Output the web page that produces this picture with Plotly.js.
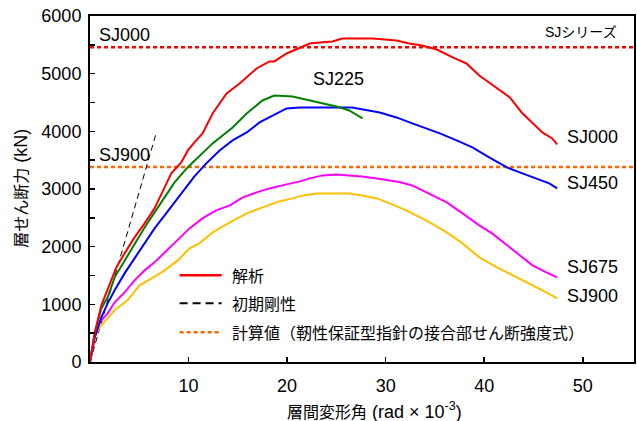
<!DOCTYPE html>
<html>
<head>
<meta charset="utf-8">
<script src="https://cdn.plot.ly/plotly-3.0.1.min.js"></script>
<style>html,body{margin:0;padding:0;background:#fff;}#chart{width:637px;height:421px;}</style>
</head>
<body>
<div id="chart"></div>
<script>
// ---- data ----
const sj000_x = [0, 0.47, 1.15, 1.65, 2.16, 2.67, 3.51, 4.52, 5.54, 6.55, 7.57, 8.25, 9.26, 9.93, 10.6, 11.42, 12.44, 13.86, 15.18, 16.9, 18.2, 18.7, 19.95, 21.26, 22.3, 23.3, 24.6, 25.6, 28.7, 31.1, 32.4, 33.7, 35.2, 36.8, 38.2, 39.5, 41.2, 42.6, 43.8, 44.9, 45.9, 46.9, 47.4];
const sj000_y = [0, 497, 983, 1191, 1416, 1641, 1884, 2161, 2404, 2664, 3028, 3270, 3461, 3669, 3808, 3964, 4310, 4657, 4830, 5090, 5212, 5212, 5350, 5454, 5523, 5540, 5558, 5610, 5610, 5575, 5523, 5489, 5419, 5281, 5177, 4969, 4761, 4588, 4327, 4154, 3981, 3877, 3773];

const sj225_x = [0, 0.47, 1.15, 1.79, 2.5, 3.51, 4.52, 5.54, 6.55, 7.57, 8.58, 9.9, 11.4, 12.44, 14.47, 15.9, 17.5, 18.7, 20.55, 21.9, 23.3, 25.0, 26.3, 27.0, 27.65];
const sj225_y = [0, 497, 929, 1121, 1468, 1762, 2057, 2334, 2594, 2854, 3114, 3374, 3617, 3791, 4068, 4310, 4535, 4622, 4605, 4553, 4501, 4432, 4362, 4293, 4224];

const sj450_x = [0, 0.47, 1.15, 1.79, 2.5, 3.51, 4.52, 5.54, 6.55, 7.57, 8.58, 9.6, 10.6, 11.8, 13.15, 14.47, 15.9, 17.2, 18.5, 19.95, 21.3, 23.3, 26.6, 29.4, 31.1, 32.7, 34.1, 35.5, 37.2, 38.8, 40.5, 42.3, 43.6, 45.3, 46.6, 47.4];
const sj450_y = [0, 428, 775, 1017, 1243, 1537, 1797, 2057, 2317, 2542, 2768, 3000, 3220, 3444, 3669, 3842, 3981, 4154, 4275, 4397, 4414, 4414, 4414, 4327, 4241, 4137, 4050, 3964, 3842, 3721, 3548, 3374, 3288, 3184, 3097, 3011];

const sj675_x = [0, 0.47, 0.97, 1.79, 2.5, 3.51, 4.52, 5.54, 6.55, 7.57, 8.58, 10.1, 11.4, 12.8, 14.2, 15.5, 16.9, 18.2, 19.95, 21.3, 22.3, 23.6, 25.0, 26.3, 27.6, 29.1, 30.4, 31.4, 32.7, 34.4, 36.2, 37.8, 39.5, 40.8, 42.3, 43.6, 44.9, 46.3, 47.4];
const sj675_y = [0, 428, 688, 844, 1035, 1208, 1416, 1589, 1728, 1901, 2057, 2317, 2491, 2629, 2716, 2854, 2941, 3010, 3080, 3132, 3184, 3236, 3253, 3236, 3218, 3184, 3155, 3120, 3062, 2923, 2768, 2577, 2369, 2230, 2022, 1849, 1676, 1555, 1468];

const sj900_x = [0, 0.47, 0.97, 1.79, 2.5, 3.81, 5.03, 6.25, 7.57, 8.9, 10.1, 11.1, 12.44, 14.2, 15.9, 17.5, 19.2, 20.55, 21.6, 23.0, 25.0, 26.3, 27.65, 29.1, 30.4, 32.1, 34.1, 36.2, 37.8, 39.5, 41.3, 42.9, 44.6, 46.3, 47.4];
const sj900_y = [0, 428, 601, 757, 896, 1069, 1329, 1450, 1589, 1762, 1970, 2057, 2248, 2421, 2577, 2681, 2785, 2837, 2889, 2923, 2923, 2923, 2889, 2837, 2750, 2629, 2456, 2248, 2057, 1814, 1641, 1502, 1364, 1208, 1104];

const stiff_x = [0, 6.65];
const stiff_y = [0, 3930];

const calc_sj000 = 5460;
const calc_sj900 = 3380;
const xSpan = [0, 55.2];

const xTicks = [10, 20, 30, 40, 50];
const seriesLabels = ["SJ000", "SJ450", "SJ675", "SJ900"];
const labelEndY = [3894, 3097, 1641, 1139];
const legendLabels = ["解析", "初期剛性", "計算値（靭性保証型指針の接合部せん断強度式）"];

// ---- chart ----
const FONT = "Liberation Sans, Arial, Noto Sans CJK JP, sans-serif";
const JFONT = "Noto Sans CJK JP, Liberation Sans, sans-serif";

function line(x, y, color, width, dash) {
  return {x: x, y: y, type: 'scatter', mode: 'lines', showlegend: false, hoverinfo: 'skip',
          line: {color: color, width: width, dash: dash || 'solid'}};
}

const traces = [
  line(xSpan, [calc_sj000, calc_sj000], '#FF0000', 2.5, '4px,3px'),
  line(xSpan, [calc_sj900, calc_sj900], '#FF6600', 2.5, '4px,3px'),
  line(stiff_x, stiff_y, '#000000', 1, '6px,4px'),
  line(sj900_x, sj900_y, '#FFC000', 2),
  line(sj675_x, sj675_y, '#FF00FF', 2),
  line(sj450_x, sj450_y, '#0000FF', 2),
  line(sj225_x, sj225_y, '#008000', 2),
  line(sj000_x, sj000_y, '#FF0000', 2)
];

const annotations = [
  {x: 0.67, y: 5662, xref: 'x', yref: 'y', text: 'SJ000', showarrow: false, xanchor: 'left', yanchor: 'middle', font: {family: FONT, size: 18, color: '#000'}},
  {x: 0.67, y: 3582, xref: 'x', yref: 'y', text: 'SJ900', showarrow: false, xanchor: 'left', yanchor: 'middle', font: {family: FONT, size: 18, color: '#000'}},
  {x: 53.7, y: 5714, xref: 'x', yref: 'y', text: 'SJシリーズ', showarrow: false, xanchor: 'right', yanchor: 'middle', font: {family: FONT, size: 14, color: '#000'}},
  {x: 25.2, y: 4899, xref: 'x', yref: 'y', text: 'SJ225', showarrow: false, xanchor: 'center', yanchor: 'middle', font: {family: FONT, size: 18, color: '#000'}},
  // axis titles
  {x: 0.523, y: -0.1395, xref: 'paper', yref: 'paper', text: '<span style="font-size:16px">層間変形角</span> (rad × 10<sup>-3</sup>)', showarrow: false, xanchor: 'center', yanchor: 'middle', font: {family: FONT, size: 18, color: '#000'}},
  {x: -0.1258, y: 0.502, xref: 'paper', yref: 'paper', text: '<span style="font-size:16px">層せん断力</span> (kN)', textangle: -90, showarrow: false, xanchor: 'center', yanchor: 'middle', font: {family: FONT, size: 18, color: '#000'}}
];
seriesLabels.forEach((t, i) => {
  annotations.push({x: 48.2, y: labelEndY[i], xref: 'x', yref: 'y', text: t, showarrow: false, xanchor: 'left', yanchor: 'middle', font: {family: FONT, size: 18, color: '#000'}});
});

// legend (drawn manually)
const legY = [0.2504, 0.1696, 0.0858];
const legStyle = [
  {color: '#FF0000', width: 2.5, dash: 'solid'},
  {color: '#000000', width: 2, dash: '8px,5px'},
  {color: '#FF6600', width: 2.5, dash: '4px,3px'}
];
const shapes = [];
legendLabels.forEach((t, i) => {
  shapes.push({type: 'line', xref: 'paper', yref: 'paper', x0: 0.1647, x1: 0.242, y0: legY[i], y1: legY[i], line: legStyle[i]});
  annotations.push({x: 0.2567, y: legY[i], xref: 'paper', yref: 'paper', text: t, showarrow: false, xanchor: 'left', yanchor: 'middle', font: {family: JFONT, size: 16, color: '#000'}});
});

const layout = {
  width: 637, height: 421,
  margin: {l: 90.4, r: 2.7, t: 15.5, b: 59.3, pad: 0},
  paper_bgcolor: '#fff', plot_bgcolor: '#fff',
  showlegend: false,
  font: {family: FONT, size: 18, color: '#000'},
  xaxis: {
    range: xSpan, tickvals: xTicks, ticks: 'inside', ticklen: 5, tickwidth: 1.5, tickcolor: '#000',
    showline: true, linecolor: '#000', linewidth: 2, mirror: true, showgrid: false, zeroline: false,
    ticklabelstandoff: 6,
    tickfont: {family: FONT, size: 18, color: '#000'}
  },
  yaxis: {
    range: [0, 6000], dtick: 1000, ticks: 'inside', ticklen: 5, tickwidth: 1.5, tickcolor: '#000',
    minor: {dtick: 500, ticks: 'inside', ticklen: 5, tickwidth: 1.5, tickcolor: '#000'},
    showline: true, linecolor: '#000', linewidth: 2, mirror: true, showgrid: false, zeroline: false,
    ticklabelstandoff: 3,
    tickfont: {family: FONT, size: 18, color: '#000'}
  },
  shapes: shapes,
  annotations: annotations
};

Plotly.newPlot('chart', traces, layout, {displayModeBar: false, staticPlot: true});
</script>
</body>
</html>
